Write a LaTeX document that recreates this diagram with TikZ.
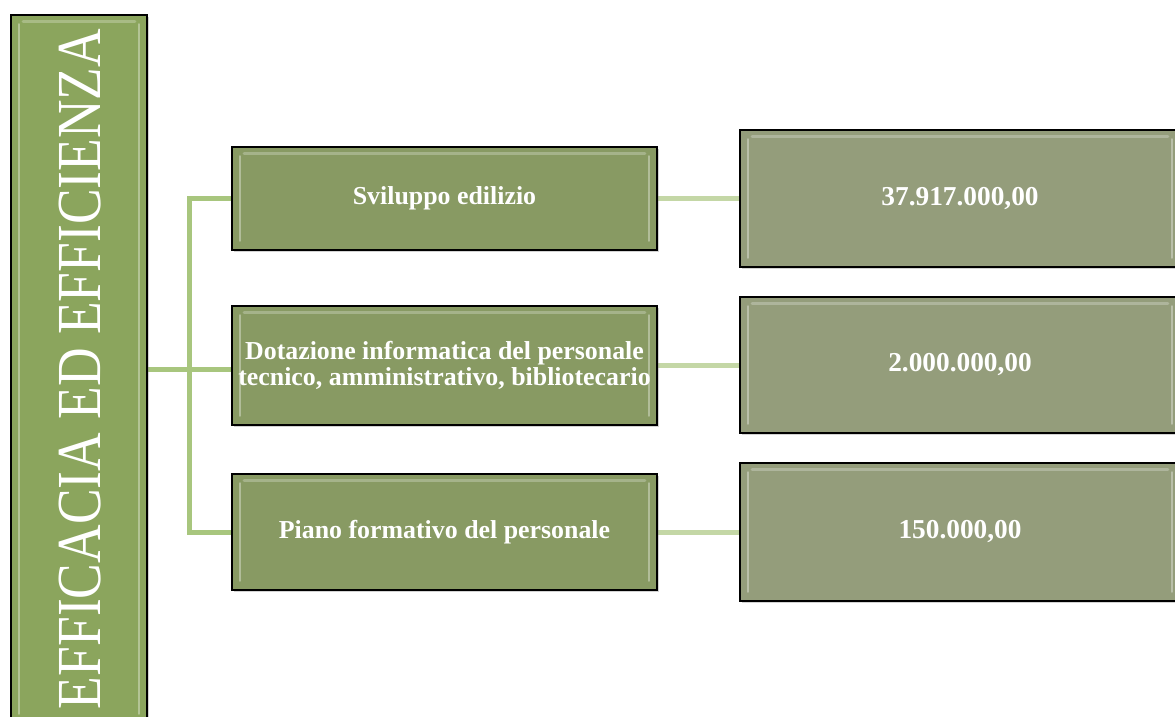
\documentclass[tikz,border=0pt]{standalone}
\usepackage{fontspec}
\setmainfont{Liberation Serif}
\usetikzlibrary{shadows,backgrounds}
\definecolor{leftfill}{HTML}{8BA55D}
\definecolor{midfill}{HTML}{889A63}
\definecolor{rightfill}{HTML}{949D7B}
\definecolor{linkA}{HTML}{A8C67E}
\definecolor{linkB}{HTML}{C4D7A6}
\tikzset{
  bevel/.style={
    path picture={
      \draw[white,opacity=0.35,line width=2pt,line cap=round]
        ([xshift=6pt,yshift=-7pt]path picture bounding box.north west) --
        ([xshift=6pt,yshift=7pt]path picture bounding box.south west);
      \draw[white,opacity=0.35,line width=2pt,line cap=round]
        ([xshift=-6pt,yshift=-7pt]path picture bounding box.north east) --
        ([xshift=-6pt,yshift=7pt]path picture bounding box.south east);
      \draw[white,opacity=0.25,line width=2pt,line cap=round]
        ([xshift=9pt,yshift=-5pt]path picture bounding box.north west) --
        ([xshift=-9pt,yshift=-5pt]path picture bounding box.north east);
    }},
  box/.style={draw=black,line width=1.1pt,rectangle,text=white,align=center,
    inner sep=0pt,bevel,drop shadow={opacity=0.35,shadow xshift=1.2pt,shadow yshift=-1.2pt}},
  leftbox/.style={box,fill=leftfill,minimum width=102pt,minimum height=531pt},
  midbox/.style={box,fill=midfill,minimum width=318.75pt,
    font=\fontsize{19.4}{20}\selectfont\bfseries},
  rightbox/.style={box,fill=rightfill,minimum width=330pt,
    font=\fontsize{20.5}{22}\selectfont\bfseries},
  linkleft/.style={draw=linkA,line width=3.75pt},
  linkright/.style={draw=linkB,line width=3.75pt},
}
\begin{document}
\begin{tikzpicture}[x=0.75pt,y=-0.75pt]
\useasboundingbox (0,0) rectangle (1175,717);
\coordinate (j) at (189,369);
\node[leftbox] (L) at (79,369) {};
\node[rotate=90,text=white,font=\fontsize{47}{50}\selectfont] (Lt) at (80,369) {\scalebox{0.853}[1]{EFFICACIA ED EFFICIENZA}};
\node[midbox,minimum height=77.25pt] (m1) at (444.5,198.5) {Sviluppo edilizio};
\node[midbox,minimum height=89.25pt] (m2) at (444.5,365.5) {Dotazione informatica del personale\\tecnico, amministrativo, bibliotecario};
\node[midbox,minimum height=87pt] (m3) at (444.5,532) {Piano formativo del personale};
\node[rightbox,minimum height=102.75pt] (r1) at (960,198.5) {37.917.000,00};
\node[rightbox,minimum height=102pt] (r2) at (960,365) {2.000.000,00};
\node[rightbox,minimum height=103.5pt] (r3) at (960,532) {150.000,00};
\begin{scope}[on background layer]
\draw[linkleft] (L.east |- j) -- (j);
\draw[linkleft] (j) |- (m1.west);
\draw[linkleft] (j) |- (m3.west);
\draw[linkleft] (j) -- (m2.west |- j);
\draw[linkright] (m1.east) -- (r1.west |- m1.east);
\draw[linkright] (m2.east) -- (r2.west |- m2.east);
\draw[linkright] (m3.east) -- (r3.west |- m3.east);
\end{scope}
\end{tikzpicture}
\end{document}
